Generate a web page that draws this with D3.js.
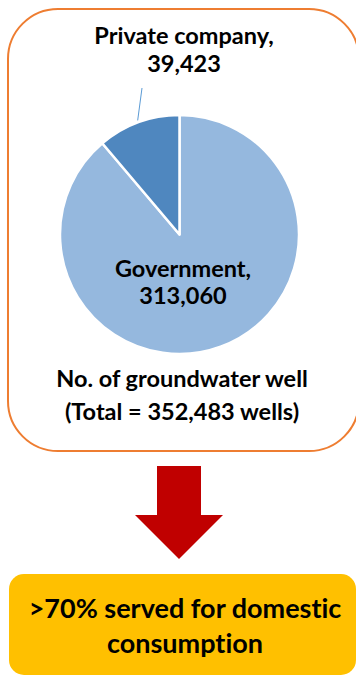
<!DOCTYPE html>
<html><head><meta charset="utf-8">
<script src="https://cdn.jsdelivr.net/npm/d3@7"></script>
<style>html,body{margin:0;padding:0;background:#fff;overflow:hidden} text{font-variant-ligatures:none}</style>
</head><body>
<svg id="c" width="356" height="677"></svg>
<script>
const categories = ["Government", "Private company"];
const values = [313060, 39423];
const sliceColors = ["#95B8DE", "#4F87BF"];
const totalLabel = ["No. of groundwater well", "(Total = 352,483 wells)"];
const footerLines = [">70% served for domestic", "consumption"];

const svg = d3.select("#c");
const font = "Lato, 'Open Sans', sans-serif";
const fmt = d3.format(",");

// orange rounded box
svg.append("rect").attr("x", 8).attr("y", 9).attr("width", 351).attr("height", 442)
  .attr("rx", 50).attr("ry", 50).attr("fill", "#fff").attr("stroke", "#EE7D31").attr("stroke-width", 2);

const cx = 179.5, cy = 234.5, r = 119.5;
const pie = d3.pie().sort(null).value(d => d)(values);
const arc = d3.arc().innerRadius(0).outerRadius(r);
const g = svg.append("g").attr("transform", `translate(${cx},${cy})`);
g.selectAll("path").data(pie).join("path")
  .attr("d", arc).attr("fill", (d, i) => sliceColors[i])
  .attr("stroke", "#fff").attr("stroke-width", 2.5).attr("stroke-linejoin", "round");

// leader line for private slice
const pv = pie[1];
const mid = (pv.startAngle + pv.endAngle) / 2;
g.append("line")
  .attr("x1", 142 - cx).attr("y1", 88 - cy)
  .attr("x2", Math.sin(mid) * (r + 2)).attr("y2", -Math.cos(mid) * (r + 2))
  .attr("stroke", "#5B9BD5").attr("stroke-width", 1);

function label(lines, x, ys, size) {
  lines.forEach((t, i) => {
    svg.append("text").attr("x", x).attr("y", ys[i]).attr("text-anchor", "middle")
      .attr("font-family", font).attr("font-weight", 700).attr("font-size", size)
      .attr("fill", "#000").text(t);
  });
}
label([categories[1] + ",", fmt(values[1])], 184, [44, 72], 23.5);
label([categories[0] + ",", fmt(values[0])], 183, [277, 304], 23.5);
label(totalLabel, 182, [387, 420], 23.5);

// arrow
const arrowPts = [[157,466],[201,466],[201,515],[223,515],[179,559],[135,515],[157,515]];
svg.append("path").attr("d", d3.line()(arrowPts) + "Z").attr("fill", "#C00000");

// yellow box
svg.append("rect").attr("x", 9).attr("y", 574).attr("width", 347).attr("height", 101)
  .attr("rx", 15).attr("ry", 15).attr("fill", "#FFC000");
label(footerLines, 185, [618, 653], 27);
</script>
</body></html>
